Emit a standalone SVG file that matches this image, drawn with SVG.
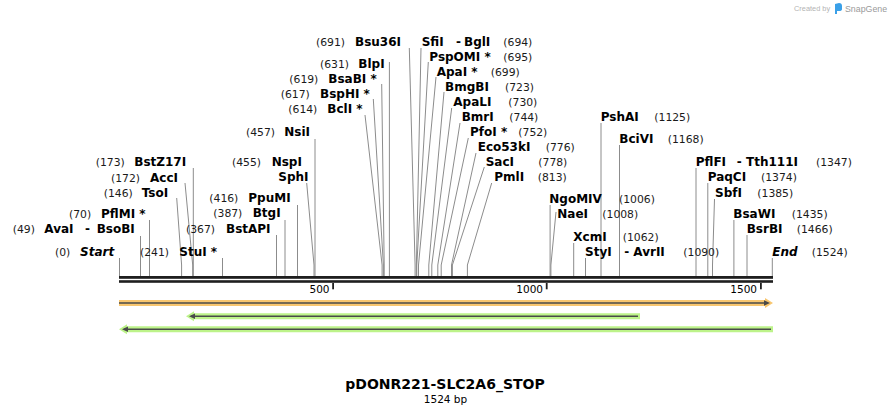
<svg xmlns="http://www.w3.org/2000/svg" width="892" height="415" viewBox="0 0 892 415">
<style>
.n{font-family:"DejaVu Sans",Verdana,sans-serif;font-weight:bold;font-size:12px;fill:#000}
.p{font-family:"DejaVu Sans",Verdana,sans-serif;font-size:10.8px;fill:#1a1a1a}
.it{font-style:italic}
.ld{stroke:#8c8c8c;stroke-width:1;fill:none}
.tk{font-family:"DejaVu Sans",Verdana,sans-serif;font-size:10.5px;fill:#000;text-anchor:end}
.bar{fill:#1f1f1f}
.core{stroke:#4a4a4a;stroke-width:1.6}
.dk{fill:#4a4a4a}
.grn{fill:#bdf38a}
.org{fill:#f8c66f}
</style>
<rect width="892" height="415" fill="#fff"/>

<g id="logo">
<text x="794" y="11" style="font-family:'Liberation Sans',Arial,sans-serif;font-size:7.4px;fill:#b4b4b4">Created by</text>
<path d="M835,4 L839,3 Q842,3 842,6 L842,9 Q842,11 839,11 L837,11 L837,14 L835,14 Z" fill="#3aa0e8"/>
<text x="845" y="12" style="font-family:'Liberation Sans',Arial,sans-serif;font-size:8.8px;fill:#9a9a9a">SnapGene</text>
</g>

<g id="connectors" class="ld">
<polyline points="119.5,258 119.5,276"/>
<polyline points="140.5,236 140.5,276"/>
<polyline points="149.5,220 149.5,276"/>
<polyline points="176.7,198 181.6,265 181.6,276"/>
<polyline points="185,183 192.7,265 192.7,276"/>
<polyline points="193.3,168 193.3,276"/>
<polyline points="222.5,258 222.5,276"/>
<polyline points="276.5,235 276.5,276"/>
<polyline points="285,220 285,276"/>
<polyline points="297.5,205 297.5,276"/>
<polyline points="306.7,183 314,265 314,276"/>
<polyline points="315,139 315,276"/>
<polyline points="365,115 382.1,265 382.1,276"/>
<polyline points="373.3,99 383.4,265 383.4,276"/>
<polyline points="381.7,84 384.2,265 384.2,276"/>
<polyline points="389.4,62 389.4,276"/>
<polyline points="409.3,48 415.1,265 415.1,276"/>
<polyline points="421,48 416.4,265 416.4,276"/>
<polyline points="428.3,62 416.8,265 416.8,276"/>
<polyline points="436,77 418.5,265 418.5,276"/>
<polyline points="444,92 428.8,265 428.8,276"/>
<polyline points="451.7,108 431.8,265 431.8,276"/>
<polyline points="460,123 437.8,265 437.8,276"/>
<polyline points="468.3,138 441.2,265 441.2,276"/>
<polyline points="476,153 451.5,265 451.5,276"/>
<polyline points="484.3,167 452.4,265 452.4,276"/>
<polyline points="491.7,183 467.4,265 467.4,276"/>
<polyline points="550.1,205 550.1,276"/>
<polyline points="556,212 550.9,265 550.9,276"/>
<polyline points="573.7,243 573.7,276"/>
<polyline points="585.5,258 585.5,276"/>
<polyline points="601,123 601,276"/>
<polyline points="619.5,145 619.5,276"/>
<polyline points="696,168 696,276"/>
<polyline points="707.8,183 707.8,276"/>
<polyline points="714.5,199 712.5,265 712.5,276"/>
<polyline points="733.9,220 733.9,276"/>
<polyline points="747,235 747,276"/>
<polyline points="772.3,258 772.3,276"/>
</g>

<g id="site-BstZ17I"><text class="p" x="95.7" y="166">(173)</text><text class="n" x="134.3" y="166">BstZ17I</text></g>
<g id="site-AccI"><text class="p" x="111" y="181.5">(172)</text><text class="n" x="150" y="181.5">AccI</text></g>
<g id="site-TsoI"><text class="p" x="103.7" y="196.7">(146)</text><text class="n" x="141.7" y="196.7">TsoI</text></g>
<g id="site-PflMI"><text class="p" x="69" y="217.5">(70)</text><text class="n" x="101" y="217.5">PflMI *</text></g>
<g id="site-AvaI-BsoBI"><text class="p" x="12.7" y="232.7">(49)</text><text class="n" x="44.3" y="232.7">AvaI</text><text class="n" x="85" y="232.7">-</text><text class="n" x="96.7" y="232.7">BsoBI</text></g>
<g id="site-Start"><text class="p" x="55" y="256">(0)</text><text class="n it" x="80" y="256">Start</text></g>
<g id="site-StuI"><text class="p" x="140" y="256">(241)</text><text class="n" x="179.3" y="256">StuI *</text></g>
<g id="site-BstAPI"><text class="p" x="186" y="233">(367)</text><text class="n" x="226" y="233">BstAPI</text></g>
<g id="site-BtgI"><text class="p" x="213.3" y="217">(387)</text><text class="n" x="252.7" y="217">BtgI</text></g>
<g id="site-PpuMI"><text class="p" x="209.3" y="202">(416)</text><text class="n" x="248.3" y="202">PpuMI</text></g>
<g id="site-NspI-SphI"><text class="p" x="232" y="166">(455)</text><text class="n" x="271.7" y="166">NspI</text><text class="n" x="278.3" y="181">SphI</text></g>
<g id="site-NsiI"><text class="p" x="246" y="136">(457)</text><text class="n" x="284.3" y="136">NsiI</text></g>
<g id="site-Bsu36I"><text class="p" x="316" y="46">(691)</text><text class="n" x="355" y="46">Bsu36I</text></g>
<g id="site-BlpI"><text class="p" x="320" y="68">(631)</text><text class="n" x="358.3" y="68">BlpI</text></g>
<g id="site-BsaBI"><text class="p" x="289.3" y="83">(619)</text><text class="n" x="328.3" y="83">BsaBI *</text></g>
<g id="site-BspHI"><text class="p" x="280.7" y="98">(617)</text><text class="n" x="320" y="98">BspHI *</text></g>
<g id="site-BclI"><text class="p" x="288.3" y="113">(614)</text><text class="n" x="327.3" y="113">BclI *</text></g>

<g id="site-SfiI-BglI"><text class="n" x="421.7" y="46">SfiI</text><text class="n" x="456" y="46">-</text><text class="n" x="464" y="46">BglI</text><text class="p" x="503.3" y="46">(694)</text></g>
<g id="site-PspOMI"><text class="n" x="429.3" y="61">PspOMI *</text><text class="p" x="503.3" y="61">(695)</text></g>
<g id="site-ApaI"><text class="n" x="436.7" y="76">ApaI *</text><text class="p" x="490.7" y="76">(699)</text></g>
<g id="site-BmgBI"><text class="n" x="445" y="91">BmgBI</text><text class="p" x="505" y="91">(723)</text></g>
<g id="site-ApaLI"><text class="n" x="453.3" y="106">ApaLI</text><text class="p" x="508.3" y="106">(730)</text></g>
<g id="site-BmrI"><text class="n" x="461.7" y="121">BmrI</text><text class="p" x="509.3" y="121">(744)</text></g>
<g id="site-PfoI"><text class="n" x="470" y="136">PfoI *</text><text class="p" x="518.3" y="136">(752)</text></g>
<g id="site-Eco53kI"><text class="n" x="477.7" y="151">Eco53kI</text><text class="p" x="545.7" y="151">(776)</text></g>
<g id="site-SacI"><text class="n" x="485.7" y="166">SacI</text><text class="p" x="538.3" y="166">(778)</text></g>
<g id="site-PmlI"><text class="n" x="494.3" y="181">PmlI</text><text class="p" x="537.7" y="181">(813)</text></g>

<g id="site-NgoMIV"><text class="n" x="549.3" y="202.7">NgoMIV</text><text class="p" x="619" y="202.7">(1006)</text></g>
<g id="site-NaeI"><text class="n" x="557.3" y="217.7">NaeI</text><text class="p" x="602.3" y="217.7">(1008)</text></g>
<g id="site-XcmI"><text class="n" x="573.3" y="240.7">XcmI</text><text class="p" x="622.7" y="240.7">(1062)</text></g>
<g id="site-StyI-AvrII"><text class="n" x="585" y="256">StyI</text><text class="n" x="624.3" y="256">-</text><text class="n" x="633.3" y="256">AvrII</text><text class="p" x="683.3" y="256">(1090)</text></g>
<g id="site-PshAI"><text class="n" x="600.7" y="120.7">PshAI</text><text class="p" x="654.3" y="120.7">(1125)</text></g>
<g id="site-BciVI"><text class="n" x="619.3" y="142.7">BciVI</text><text class="p" x="667.7" y="142.7">(1168)</text></g>
<g id="site-PflFI-Tth111I"><text class="n" x="695.7" y="166">PflFI</text><text class="n" x="736.7" y="166">-</text><text class="n" x="746" y="166">Tth111I</text><text class="p" x="816" y="166">(1347)</text></g>
<g id="site-PaqCI"><text class="n" x="707.7" y="181">PaqCI</text><text class="p" x="761" y="181">(1374)</text></g>
<g id="site-SbfI"><text class="n" x="715" y="196.7">SbfI</text><text class="p" x="757.3" y="196.7">(1385)</text></g>
<g id="site-BsaWI"><text class="n" x="733.3" y="217.7">BsaWI</text><text class="p" x="791.7" y="217.7">(1435)</text></g>
<g id="site-BsrBI"><text class="n" x="746.7" y="232.7">BsrBI</text><text class="p" x="796.7" y="232.7">(1466)</text></g>
<g id="site-End"><text class="n it" x="772.3" y="256">End</text><text class="p" x="811.7" y="256">(1524)</text></g>

<g id="ruler">
<rect class="bar" x="119" y="276" width="654" height="2.8"/>
<rect class="bar" x="119" y="280.2" width="654" height="2.6"/>
<rect class="bar" x="332.2" y="283" width="1.8" height="6.3"/>
<rect class="bar" x="545.8" y="283" width="1.8" height="6.3"/>
<rect class="bar" x="760" y="283" width="1.8" height="6.3"/>
<text class="tk" x="329.5" y="292.5">500</text>
<text class="tk" x="543" y="292.5">1000</text>
<text class="tk" x="757" y="292.5">1500</text>
</g>

<g id="feature-1">
<polygon class="org" points="119,300 765,300 765,298 773,303 765,308 765,306 119,306"/>
<line class="core" x1="119" y1="303" x2="767" y2="303"/>
<polygon class="dk" points="764,300.3 770,303 764,305.7"/>
</g>
<g id="feature-2">
<polygon class="grn" points="186,316.3 194,311.3 194,313.3 640,313.3 640,319.3 194,319.3 194,321.3"/>
<line class="core" x1="191" y1="316.3" x2="638" y2="316.3"/>
<polygon class="dk" points="189,316.3 195,313.6 195,319"/>
</g>
<g id="feature-3">
<polygon class="grn" points="119,329.2 127,324.2 127,326.2 773,326.2 773,332.2 127,332.2 127,334.2"/>
<line class="core" x1="124" y1="329.2" x2="771" y2="329.2"/>
<polygon class="dk" points="122,329.2 128,326.5 128,331.9"/>
</g>

<g id="title">
<text x="445" y="388.5" text-anchor="middle" style="font-family:'DejaVu Sans',Verdana,sans-serif;font-weight:bold;font-size:14px;fill:#000">pDONR221-SLC2A6_STOP</text>
<text x="445.5" y="403" text-anchor="middle" style="font-family:'DejaVu Sans',Verdana,sans-serif;font-size:10.5px;fill:#000">1524 bp</text>
</g>
</svg>
